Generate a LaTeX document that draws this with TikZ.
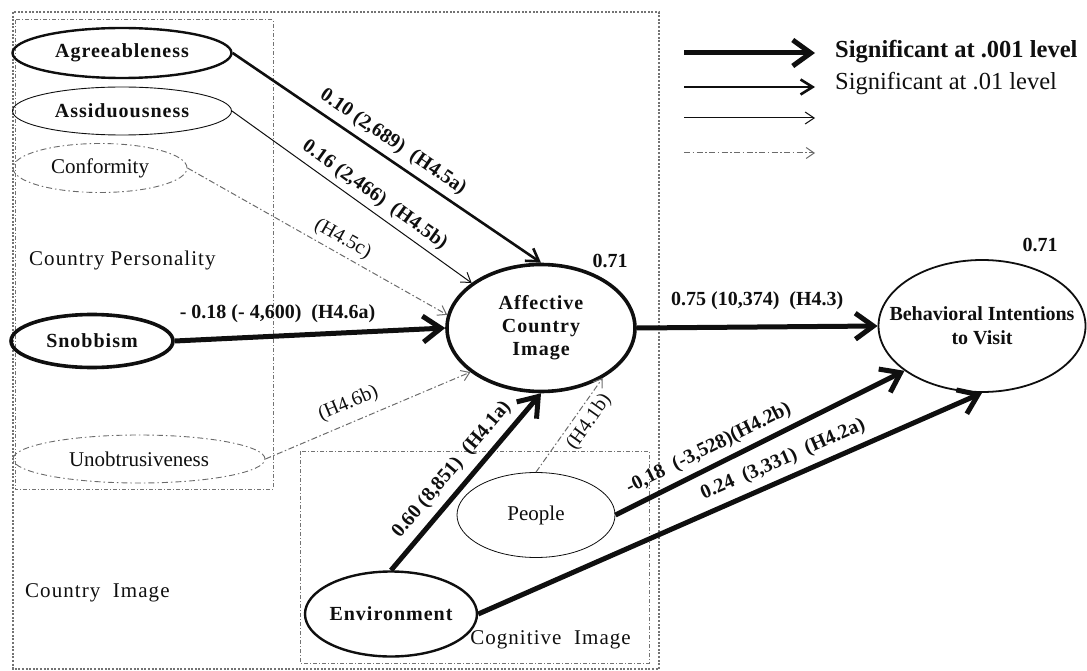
\documentclass[tikz,border=0pt]{standalone}
\usepackage{fontspec}
\setmainfont{Liberation Serif}
\newfontfamily\widefont{Liberation Serif}[LetterSpace=5]
\usetikzlibrary{arrows.meta,shapes.geometric}

\definecolor{ink}{gray}{0.06}
\definecolor{dashgray}{gray}{0.42}
\definecolor{boxgray}{gray}{0.45}

\tikzset{
  % latent constructs
  latent/.style={ellipse, draw=ink, inner sep=0pt, align=center, text=ink},
  heavynode/.style={latent, line width=3.6pt, font=\fontsize{20}{23}\selectfont\widefont\bfseries},
  mediumnode/.style={latent, line width=2.4pt, font=\fontsize{20}{23}\selectfont\widefont\bfseries},
  thinnode/.style={latent, line width=0.9pt, font=\fontsize{20}{23}\selectfont\widefont\bfseries},
  plainnode/.style={latent, line width=0.8pt, font=\fontsize{21}{24}\selectfont},
  dropnode/.style={latent, draw=dashgray, line width=0.9pt,
    dash pattern=on 6pt off 3pt on 1.5pt off 3pt, font=\fontsize{21}{24}\selectfont},
  % paths by significance
  p001/.style={draw=ink, line width=5pt, -{Straight Barb[length=18pt,width=26pt]}},
  p01/.style={draw=ink, line width=2.6pt, -{Straight Barb[length=12pt,width=15pt]}},
  pns/.style={draw=ink, line width=1pt, -{Straight Barb[length=9pt,width=12pt]}},
  pdrop/.style={draw=dashgray, line width=1pt,
    dash pattern=on 6pt off 2.5pt on 1.5pt off 2.5pt, -{Straight Barb[length=8pt,width=11pt]}},
  % coefficient labels
  coef/.style={font=\fontsize{20}{23}\selectfont\bfseries, inner sep=1pt, text=ink},
  hyp/.style={font=\fontsize{20}{23}\selectfont, inner sep=1pt, text=ink},
  grouptitle/.style={font=\fontsize{21}{24}\selectfont\widefont, text=ink, inner sep=0pt},
  keytext/.style={anchor=base west, inner sep=0pt, text=ink, font=\fontsize{24.5}{27}\selectfont},
  % construct groupings
  outerbox/.style={draw=boxgray, line width=1.1pt, dash pattern=on 2pt off 1.6pt},
  groupbox/.style={draw=boxgray, line width=1pt, dash pattern=on 4pt off 2pt on 1pt off 2pt},
}

\begin{document}
\begin{tikzpicture}[x=1pt,y=-1pt]
\useasboundingbox (0,0) rectangle (1087,671);

% groupings
\draw[outerbox] (13,12) rectangle (659,669);
\draw[groupbox] (15,20) rectangle (273,489);
\draw[groupbox] (300,451) rectangle (649,663);

\node[grouptitle, anchor=west] (tcp) at (29,260) {Country Personality};
\node[grouptitle, anchor=west] (tci) at (25,593) {Country\ \ Image};
\node[grouptitle, anchor=east] (tcg) at (631,640) {Cognitive\ \ Image};

% constructs
\node[mediumnode, minimum width=219pt, minimum height=50pt] (agr) at (122,53) {Agreeableness};
\node[thinnode, minimum width=219pt, minimum height=48pt] (ass) at (122,111) {Assiduousness};
\node[dropnode, minimum width=174pt, minimum height=49pt] (conf) at (100,168) {Conformity};
\node[heavynode, minimum width=162pt, minimum height=53pt] (snob) at (92,341) {Snobbism};
\node[dropnode, minimum width=252pt, minimum height=48pt] (unob) at (139,459) {Unobtrusiveness};
\node[heavynode, minimum width=188pt, minimum height=127pt] (aff) at (541,328) {Affective\\Country\\Image};
\node[latent, line width=1.8pt, font=\fontsize{20}{24}\selectfont\bfseries,
      inner xsep=-35pt, minimum width=207pt, minimum height=132pt] (beh) at (982,326)
      {Behavioral Intentions\\to Visit};
\node[mediumnode, inner xsep=-5pt, minimum width=172pt, minimum height=85pt] (env) at (391,614) {Environment};
\node[plainnode, minimum width=158pt, minimum height=85pt] (peo) at (536,515) {People};

% explained variance
\node[coef] (r2a) at (610,261) {0.71};
\node[coef] (r2b) at (1040,245) {0.71};

% structural paths
\draw[p01] (agr.east) -- (aff.north)
  node[coef, sloped, pos=0.49, above=5pt] (l45a) {0.10 (2,689)~ (H4.5a)};
\draw[pns] (ass.east) -- (aff.147)
  node[coef, sloped, pos=0.56, above=4pt] (l45b) {0.16 (2,466)~ (H4.5b)};
\draw[pdrop] (conf.east) -- (aff.172)
  node[hyp, sloped, pos=0.57, above=4pt] (l45c) {(H4.5c)};
\draw[p001] (snob.east) -- (aff.west)
  node[coef, pos=0.38, above=10pt] (l46a) {- 0.18 (- 4,600)~ (H4.6a)};
\draw[pdrop] (unob.east) -- (aff.212)
  node[hyp, sloped, pos=0.44, above=8pt] (l46b) {(H4.6b)};
\draw[p001] (env.north) -- (aff.south)
  node[coef, sloped, pos=0.5, above=6pt] (l41a) {0.60 (8,851)~ (H4.1a)};
\draw[pdrop] (peo.north) -- (aff.-39)
  node[hyp, sloped, pos=0.62, below=4pt] (l41b) {(H4.1b)};
\draw[p001] (aff.east) -- (beh.west)
  node[coef, pos=0.5, above=14pt] (l43) {0.75 (10,374)~ (H4.3)};
\draw[p001] (peo.east) -- (beh.210)
  node[coef, sloped, pos=0.35, above=5pt] (l42b) {-0,18~ (-3,528)(H4.2b)};
\draw[p001] (env.east) -- (beh.south)
  node[coef, sloped, pos=0.62, above=6pt] (l42a) {0.24~ (3,331)~ (H4.2a)};

% key
\coordinate (k1a) at (684,53);  \coordinate (k1b) at (815,53);
\coordinate (k2a) at (684,87);  \coordinate (k2b) at (815,87);
\coordinate (k3a) at (684,118); \coordinate (k3b) at (815,118);
\coordinate (k4a) at (684,153); \coordinate (k4b) at (815,153);
\draw[p001] (k1a) -- (k1b);
\draw[p01]  (k2a) -- (k2b);
\draw[pns]  (k3a) -- (k3b);
\draw[pdrop] (k4a) -- (k4b);
\node[keytext, font=\fontsize{24.5}{27}\selectfont\bfseries] (k1t) at (835,58) {Significant at .001 level};
\node[keytext] (k2t) at (835,90) {Significant at .01 level};
\end{tikzpicture}
\end{document}
